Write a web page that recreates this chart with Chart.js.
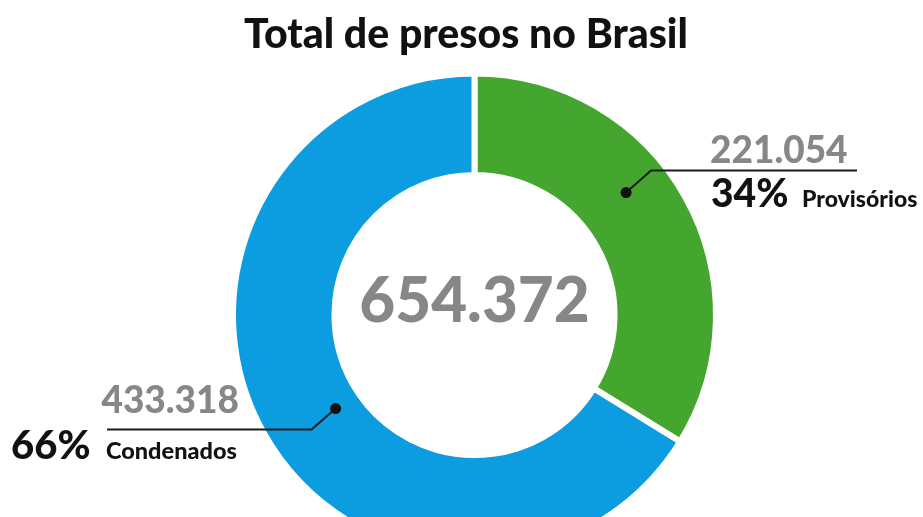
<!DOCTYPE html>
<html>
<head>
<meta charset="utf-8">
<script src="https://cdn.jsdelivr.net/npm/chart.js@4"></script>
<style>
  html, body { margin: 0; padding: 0; background: #ffffff; overflow: hidden; }
  #wrap { position: relative; width: 923px; height: 630px; }
</style>
</head>
<body>
<div id="wrap"><canvas id="c" width="923" height="630"></canvas></div>
<script>
// ---- data ----
const titleText = 'Total de presos no Brasil';
const categories = ['Provisórios', 'Condenados'];
const values = [221054, 433318];
const percents = ['34%', '66%'];
const colors = ['#45a62f', '#0b9de0'];
const total = values.reduce((a, b) => a + b, 0);

function fmt(n) {
  return String(n).replace(/\B(?=(\d{3})+(?!\d))/g, '.');
}

const FONT = 'Lato, "Noto Sans", sans-serif';

const labelsPlugin = {
  id: 'labels',
  afterDraw(chart) {
    const ctx = chart.ctx;
    const meta = chart.getDatasetMeta(0);
    ctx.save();
    // title
    ctx.fillStyle = '#111111';
    ctx.textAlign = 'center';
    ctx.textBaseline = 'alphabetic';
    ctx.font = '900 41px ' + FONT;
    ctx.fillText(titleText, 466, 48);

    const a0 = meta.data[0].getProps(['x', 'y'], true);
    const cx = a0.x, cy = a0.y;
    // center total
    ctx.fillStyle = '#878787';
    ctx.font = '900 62px ' + FONT;
    ctx.fillText(fmt(total), cx, cy + 7);

    // anchor fractions inside each arc (angle fraction, radial fraction)
    const anchors = [[0.42, 0.54], [0.48, 0.27]];
    meta.data.forEach((arc, i) => {
      const p = arc.getProps(['x', 'y', 'startAngle', 'endAngle', 'innerRadius', 'outerRadius'], true);
      const ang = p.startAngle + (p.endAngle - p.startAngle) * anchors[i][0];
      const r = p.innerRadius + (p.outerRadius - p.innerRadius) * anchors[i][1];
      const dx = p.x + Math.cos(ang) * r;
      const dy = p.y + Math.sin(ang) * r;
      const right = i === 0;
      const ex = right ? dx + 25 : dx - 24;
      const ey = right ? dy - 22 : dy + 21;
      const lx = right ? 857 : 107;

      ctx.strokeStyle = '#1a1a1a';
      ctx.lineWidth = 2;
      ctx.beginPath();
      ctx.moveTo(dx, dy);
      ctx.lineTo(ex, ey);
      ctx.lineTo(lx, ey);
      ctx.stroke();
      ctx.fillStyle = '#111111';
      ctx.beginPath();
      ctx.arc(dx, dy, 5.5, 0, Math.PI * 2);
      ctx.fill();

      ctx.textBaseline = 'alphabetic';
      if (right) {
        ctx.textAlign = 'left';
        ctx.fillStyle = '#878787';
        ctx.font = '900 37px ' + FONT;
        ctx.fillText(fmt(values[i]), 710, ey - 8);
        ctx.fillStyle = '#111111';
        ctx.font = '900 39px ' + FONT;
        ctx.fillText(percents[i], 711, ey + 36);
        ctx.font = '900 23px ' + FONT;
        ctx.fillText(categories[i], 802, ey + 36);
      } else {
        ctx.textAlign = 'right';
        ctx.fillStyle = '#878787';
        ctx.font = '900 37px ' + FONT;
        ctx.fillText(fmt(values[i]), 239, ey - 17);
        ctx.textAlign = 'left';
        ctx.fillStyle = '#111111';
        ctx.font = '900 40px ' + FONT;
        ctx.fillText(percents[i], 11, ey + 29);
        ctx.font = '900 23.5px ' + FONT;
        ctx.fillText(categories[i], 106, ey + 29);
      }
    });
    ctx.restore();
  }
};

new Chart(document.getElementById('c'), {
  type: 'doughnut',
  data: {
    labels: categories,
    datasets: [{
      data: values,
      backgroundColor: colors,
      borderColor: '#ffffff',
      borderWidth: 6,
      hoverOffset: 0
    }]
  },
  options: {
    responsive: false,
    animation: false,
    cutout: '58%',
    layout: { padding: { top: 70.5, bottom: 70.5, left: 230, right: 204 } },
    plugins: {
      legend: { display: false },
      tooltip: { enabled: false },
      title: { display: false }
    }
  },
  plugins: [labelsPlugin]
});
</script>
</body>
</html>
